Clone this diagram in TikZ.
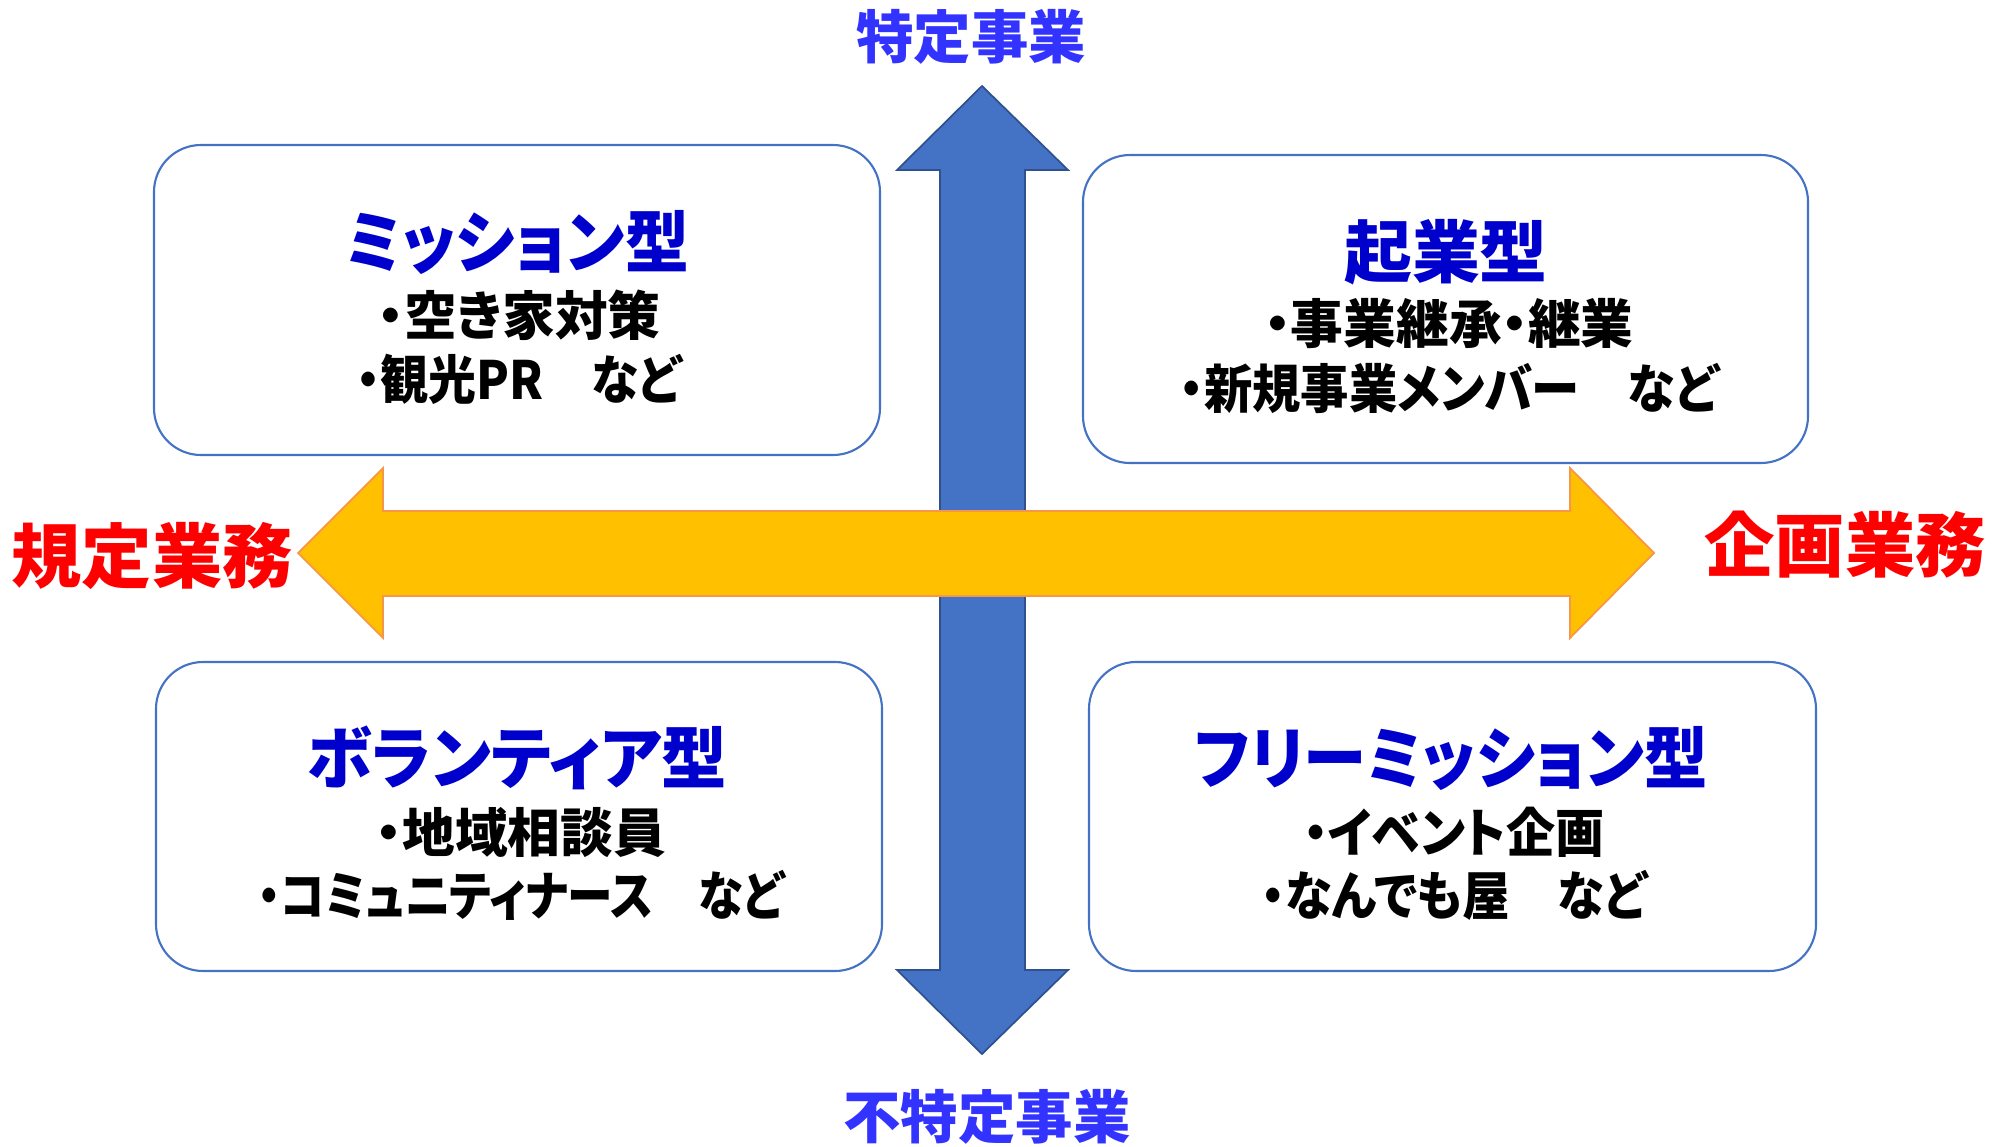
\documentclass[tikz,border=0pt]{standalone}
\usepackage{fontspec}
\usepackage{graphicx}
\newfontfamily\jp{Noto Sans CJK JP}[RawFeature=+palt]
\newcommand{\squeeze}[2]{\scalebox{#1}[1]{#2}}
\definecolor{arrblue}{HTML}{4472C4}
\definecolor{arrblueD}{HTML}{2F528F}
\definecolor{arrorange}{HTML}{FFC000}
\definecolor{arrorangeD}{HTML}{F79646}
\definecolor{titleblue}{HTML}{0000CC}
\definecolor{axisblue}{HTML}{3333FF}
\definecolor{axisred}{HTML}{FF0000}
\begin{document}
\begin{tikzpicture}[x=0.03cm,y=-0.03cm,
  quad/.style={draw=arrblue, line width=1.8pt, fill=white, rounded corners=1.41cm,
    minimum width=21.78cm, minimum height=9.28cm, inner sep=0pt, outer sep=0pt},
  qtitle/.style={font=\jp\bfseries\fontsize{58}{60}\selectfont, text=titleblue, inner sep=0pt},
  qitem/.style={font=\jp\bfseries\fontsize{45}{47}\selectfont, text=black, inner sep=0pt},
  axisv/.style={font=\jp\bfseries\fontsize{49}{51}\selectfont, text=axisblue, inner sep=0pt},
  axish/.style={font=\jp\bfseries\fontsize{60}{62}\selectfont, text=axisred, inner sep=0pt},
  varrow/.style={fill=arrblue, draw=arrblueD, line width=1.5pt, line join=miter},
  harrow/.style={fill=arrorange, draw=arrorangeD, line width=1.5pt, line join=miter}]
\useasboundingbox (0,0) rectangle (2006,1147);

% vertical double arrow
\draw[varrow] (982,86) -- (1068,170) -- (1025,170) -- (1025,970) -- (1068,970)
  -- (982,1054) -- (897,970) -- (940,970) -- (940,170) -- (897,170) -- cycle;
% horizontal double arrow
\draw[harrow] (298,553) -- (383,468) -- (383,511) -- (1570,511) -- (1570,468)
  -- (1654,553) -- (1570,638) -- (1570,596) -- (383,596) -- (383,638) -- cycle;

% axis labels
\node[axisv] (top) at (971,37) {特定事業};
\node[axisv] (bottom) at (987,1117) {不特定事業};
\node[axish] (left) at (152,556) {規定業務};
\node[axish] (right) at (1845,545) {企画業務};

% quadrant boxes
\node[quad, minimum width=21.78cm, minimum height=9.30cm] (b1) at (517,300) {};
\node[quad, minimum width=21.75cm, minimum height=9.24cm] (b2) at (1445.5,309) {};
\node[quad, minimum width=21.78cm, minimum height=9.27cm] (b3) at (519,816.5) {};
\node[quad, minimum width=21.81cm, minimum height=9.27cm] (b4) at (1452.5,816.5) {};

% box 1
\node[qtitle] (t1) at (517,242) {\squeeze{0.94}{ミッション型}};
\node[qitem] (t1a) at (519,315) {・空き家対策};
\node[qitem] (t1b) at (519,379) {\squeeze{0.91}{・観光PR　など}};
% box 2
\node[qtitle] (t2) at (1446,252) {起業型};
\node[qitem] (t2a) at (1449,324) {・事業継承・継業};
\node[qitem] (t2b) at (1449,388) {\squeeze{0.917}{・新規事業メンバー　など}};
% box 3
\node[qtitle] (t3) at (517,758) {\squeeze{0.964}{ボランティア型}};
\node[qitem] (t3a) at (521,832) {・地域相談員};
\node[qitem] (t3b) at (521,895) {\squeeze{0.865}{・コミュニティナース　など}};
% box 4
\node[qtitle] (t4) at (1451,758) {\squeeze{0.934}{フリーミッション型}};
\node[qitem] (t4a) at (1454,832) {\squeeze{0.93}{・イベント企画}};
\node[qitem] (t4b) at (1454,895) {\squeeze{0.90}{・なんでも屋　など}};
\end{tikzpicture}
\end{document}
